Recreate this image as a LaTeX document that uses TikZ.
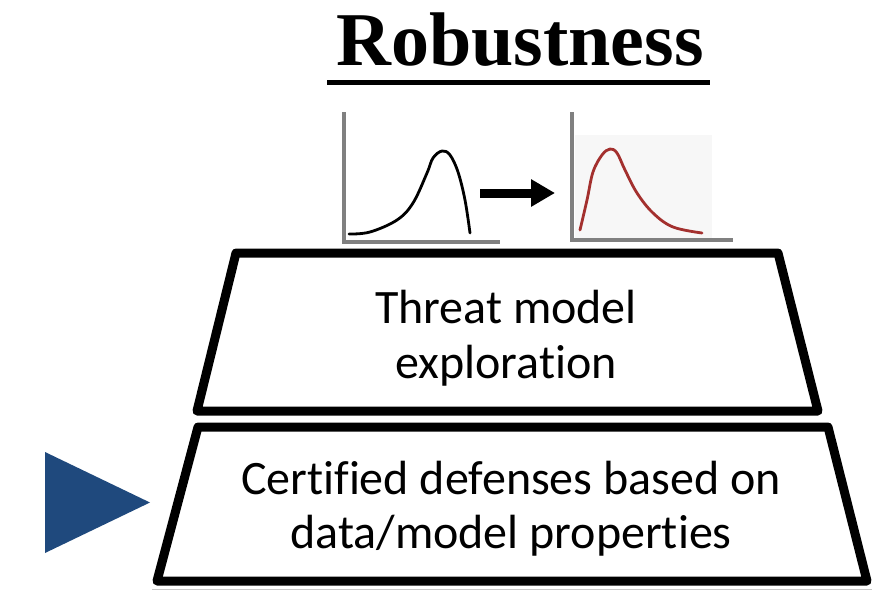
\documentclass[tikz,border=0pt]{standalone}
\usepackage{fontspec}
\setmainfont{Carlito}[RawFeature={-liga;-clig}]
\newfontfamily\titlefont{Liberation Serif}
\usetikzlibrary{arrows.meta}
\definecolor{axisgray}{HTML}{808080}
\definecolor{shiftred}{HTML}{A3302E}
\definecolor{pointer}{HTML}{1F497D}
\definecolor{panelbg}{HTML}{F7F7F7}
\tikzset{
  tierbox/.style={draw=black, fill=white, line width=9pt, line join=round},
  tiertext/.style={anchor=base, inner sep=0pt, font=\fontsize{48}{54}\selectfont},
  plotaxis/.style={draw=axisgray, line width=4pt, line join=miter},
  plotline/.style={line width=2.8pt, line cap=round, line join=round},
}
\begin{document}
\begin{tikzpicture}[x=1pt, y=-1pt]
\useasboundingbox (0,0) rectangle (886,592);

% heading
\node[anchor=base, inner sep=0pt, font=\titlefont\bfseries\fontsize{76}{80}\selectfont]
  (title) at (520,65) {Robustness};
\draw[line width=5pt] (327,82.5) -- (710,82.5);

% original distribution
\draw[plotaxis] (344,112) -- (344,242) -- (500,242);
\draw[plotline, black] plot[smooth, tension=0.6] coordinates {
  (349,234) (370,232) (397,220) (413,203) (427,173) (433,158)
  (442,151) (450,155) (458,172) (465,200) (470,233)};

% shifted distribution
\fill[panelbg] (575,135) rectangle (712,238);
\draw[plotaxis] (572,112) -- (572,240) -- (733,240);
\draw[plotline, shiftred] plot[smooth, tension=0.6] coordinates {
  (580,230) (587,200) (593,172) (602,155) (610,149) (617,153)
  (625,170) (637,193) (653,213) (673,227) (702,233)};

% arrow between the two distributions
\coordinate (shiftfrom) at (480,193);
\coordinate (shiftto) at (555,193);
\draw[line width=9pt, -{Triangle[length=24pt, width=26pt]}] (shiftfrom) -- (shiftto);

% pyramid tiers
\draw[tierbox] (236,253) -- (778,253) -- (818,411) -- (197,411) -- cycle;
\draw[gray!45, line width=1.2pt] (152,589.5) -- (872,589.5);
\draw[tierbox] (198,427) -- (828,427) -- (867,581) -- (157,581) -- cycle;

\node[tiertext] (threatA) at (506,323) {Threat model};
\node[tiertext] (threatB) at (506,378) {exploration};
\node[tiertext] (certA) at (511,494) {Certified defenses based on};
\node[tiertext] (certB) at (511,548) {data/model properties};

% marker for the current tier
\fill[pointer] (45,452) -- (150,502.5) -- (45,553) -- cycle;
\end{tikzpicture}
\end{document}
